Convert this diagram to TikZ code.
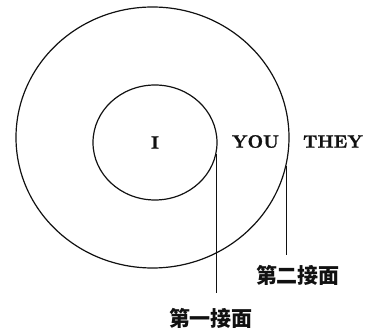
\documentclass[tikz,border=0pt]{standalone}
\usepackage{fontspec}
\usepackage{tikz}
\usetikzlibrary{shapes.geometric,positioning,calc}
\newfontfamily\cjkfont{Noto Sans CJK TC}
\newfontfamily\wordfont{lmroman10-bold}[Extension=.otf,FakeBold=1.2]
\definecolor{inkline}{HTML}{111111}
\tikzset{ring/.style={draw=inkline,ellipse,inner sep=0pt},
         word/.style={text=inkline,font=\wordfont\fontsize{18}{21}\selectfont},
         face/.style={text=inkline,font=\cjkfont\bfseries\fontsize{21}{25}\selectfont}}

\begin{document}
\begin{tikzpicture}[x=1pt,y=1pt,line width=1.2pt]
  \useasboundingbox (0,0) rectangle (368,-331);
  % the two rings
  \node[ring,minimum width=273pt,minimum height=261pt] (outer) at (152.5,-137.5) {};
  \node[ring,word,minimum width=124pt,minimum height=115pt] (inner) at (155,-142.5) {I};
  \node[word] (you) at (255.5,-141.5) {YOU};
  \node[word] (they) at (333,-141.5) {THEY};
  % the two faces
  \coordinate (end1) at (inner.-11 |- 0,-293);
  \coordinate (end2) at (outer.-12 |- 0,-255);
  \draw[inkline] (inner.-11) -- (end1);
  \draw[inkline] (outer.-12) -- (end2);
  \node[face] (face1) at (211,-318) {第一接面};
  \node[face] (face2) at (298,-275) {第二接面};
\end{tikzpicture}
\end{document}
